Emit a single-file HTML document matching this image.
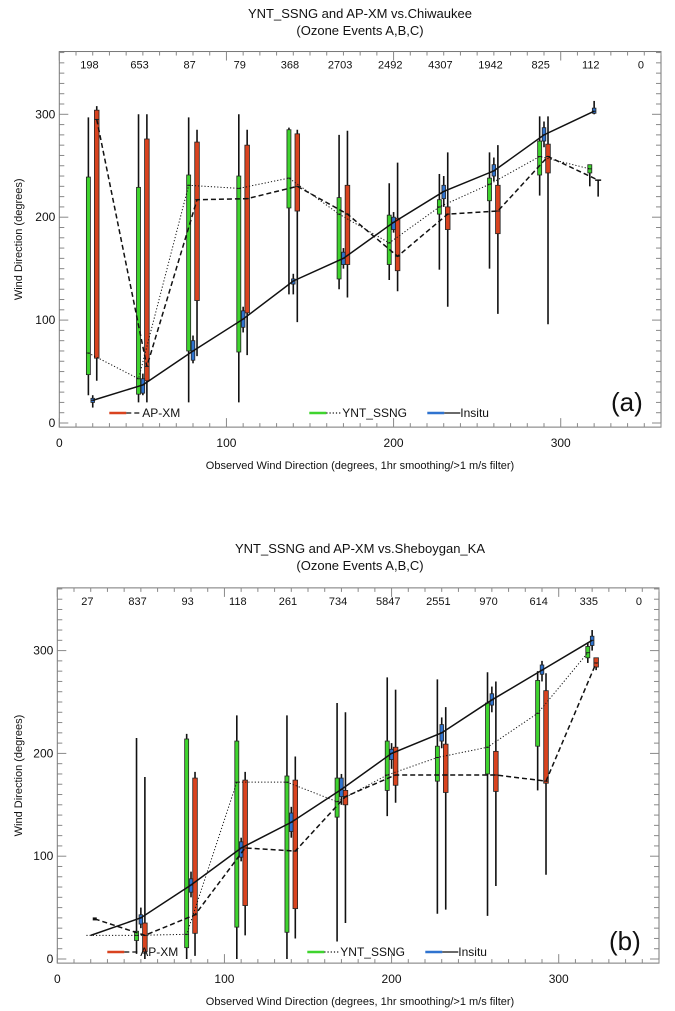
<!DOCTYPE html>
<html><head><meta charset="utf-8">
<style>
html,body{margin:0;padding:0;background:#fff;}
svg{display:block;font-family:"Liberation Sans",sans-serif;}
</style></head>
<body>
<svg id="chart" width="675" height="1011" viewBox="0 0 675 1011"></svg>
<script>
// ---------- Panel (a) data ----------
const binsA = [18,48,78,108,138,168,198,228,258,288,318,348];
const countsA = ["198","653","87","79","368","2703","2492","4307","1942","825","112","0"];
// [whiskerLow, boxLow, median, boxHigh, whiskerHigh]
const greenA = [[27,47,68,239,297],[20,28,43,229,300],[20,70,231,241,297],[20,69,228,240,300],[125,209,238,285,287],[130,140,203,219,280],[139,154,175,202,233],[149,203,210,217,242],[150,216,232,238,263],[221,241,259,274,298],[230,243,247,251,251]];
const blueA = [[15,20,22,24,27],[27,29,37,43,48],[58,61,70,80,85],[88,93,101,109,113],[125,135,138,140,145],[150,154,160,166,170],[185,188,195,200,205],[210,218,225,231,240],[235,240,245,251,258],[268,274,280,287,293],[300,301,303,306,313]];
const redA = [[41,63,295,304,308],[20,41,55,276,300],[65,119,217,273,285],[66,107,218,270,285],[98,206,230,281,285],[122,154,203,231,284],[128,148,162,199,253],[113,188,203,210,263],[106,184,206,231,270],[96,243,259,271,298],[220,236,236,236,236]];
// ---------- Panel (b) data ----------
const binsB = [18,48,78,108,138,168,198,228,258,288,318,348];
const countsB = ["27","837","93","118","261","734","5847","2551","970","614","335","0"];
const greenB = [null,[5,18,23,27,215],[0,11,24,214,219],[0,31,172,212,237],[0,26,172,178,237],[17,138,153,176,249],[139,164,179,212,274],[44,173,196,207,272],[42,180,206,249,279],[164,207,239,271,280],[288,293,298,304,308]];
const blueB = [null,[30,34,40,43,50],[60,65,72,78,85],[95,99,108,114,118],[118,124,133,142,148],[150,158,165,176,180],[185,194,200,204,210],[205,212,220,228,235],[240,247,252,258,265],[270,277,281,286,290],[300,305,310,314,320]];
const redB = [null,[0,7,23,35,177],[3,25,43,176,182],[23,52,108,174,182],[20,49,105,174,197],[35,150,158,164,240],[152,169,179,206,262],[48,162,179,209,245],[71,163,179,202,270],[82,171,173,261,278],[281,284,288,293,293]];
const firstB = {green:23, blue:23, red:39};

const svg = document.getElementById('chart');
const NS = 'http://www.w3.org/2000/svg';
function mk(tag, attrs, parent){
  const e = document.createElementNS(NS, tag);
  for (const k in attrs) e.setAttribute(k, attrs[k]);
  (parent||svg).appendChild(e);
  return e;
}
const COL = {green:'#3fd42e', blue:'#2f73cf', red:'#d9431f'};
const OFF = {green:-0.6, blue:2.0, red:4.4};
const W = {green:4, blue:3.6, red:4.6};

function panel(p){
  const g = mk('g', {});
  
  
  const xs = v => p.x0 + v*(p.x1-p.x0)/360;
  const ys = v => p.y0 - v*p.ky;
  // titles
  let t = mk('text', {x:360, y:p.top+14, 'font-size':13, 'text-anchor':'middle', fill:'#111'}, g);
  t.textContent = p.title;  
  t = mk('text', {x:360, y:p.top+31, 'font-size':13, 'text-anchor':'middle', fill:'#111'}, g);
  t.textContent = '(Ozone Events A,B,C)';  
  // frame
  const fy0 = ys(361), fy1 = ys(-4);
  const fr = mk('rect', {x:p.x0, y:fy0, width:p.x1-p.x0, height:fy1-fy0, fill:'none', stroke:'#777', 'stroke-width':1}, g);
   
  // ticks
  for (let v=0; v<=360; v+=10){
    const L = v%100===0 ? 9 : 4;
    mk('line',{x1:xs(v),x2:xs(v),y1:fy1,y2:fy1-L,stroke:'#888','stroke-width':1},g);
    mk('line',{x1:xs(v),x2:xs(v),y1:fy0,y2:fy0+L,stroke:'#888','stroke-width':1},g);
  }
  for (let v=0; v<=360; v+=10){
    const L = v%100===0 ? 9 : 5;
    mk('line',{x1:p.x0,x2:p.x0+L,y1:ys(v),y2:ys(v),stroke:'#888','stroke-width':1},g);
    mk('line',{x1:p.x1,x2:p.x1-L,y1:ys(v),y2:ys(v),stroke:'#888','stroke-width':1},g);
  }
  [0,100,200,300].forEach(v=>{
    let e = mk('text',{x:xs(v), y:fy1+20, 'font-size':12, 'text-anchor':'middle', fill:'#111'},g);
    e.textContent = v;  
    e = mk('text',{x:p.x0-4, y:ys(v)+4, 'font-size':12, 'text-anchor':'end', fill:'#111'},g);
    e.textContent = v;  
  });
  let e = mk('text',{x:360, y:fy1+42, 'font-size':11, 'text-anchor':'middle', fill:'#111'},g);
  e.textContent = 'Observed Wind Direction (degrees, 1hr smoothing/>1 m/s filter)';
   
  const my = (fy0+fy1)/2;
  e = mk('text',{x:22, y:my, 'font-size':11, 'text-anchor':'middle', fill:'#111', transform:`rotate(-90 22 ${my})`},g);
  e.textContent = 'Wind Direction (degrees)';
   
  // counts
  p.bins.forEach((b,i)=>{
    const c = mk('text',{x:xs(b), y:fy0+17, 'font-size':11, 'text-anchor':'middle', fill:'#111'},g);
    c.textContent = p.counts[i];
     
  });
  // boxes
  ['green','red','blue'].forEach(s=>{
    p[s].forEach((d,i)=>{
      if(!d) return;
      const cx = xs(p.bins[i]+OFF[s]);
      const wl = mk('line',{x1:cx,x2:cx,y1:ys(d[0]),y2:ys(d[4]),stroke:'#111','stroke-width':1.6},g);
       
      if (d[1]===d[3]){
        mk('line',{x1:cx-3,x2:cx+3,y1:ys(d[2]),y2:ys(d[2]),stroke:'#111','stroke-width':1.5},g);
        return;
      }
      const r = mk('rect',{x:cx-W[s]/2, y:ys(d[3]), width:W[s], height:Math.max(1,ys(d[1])-ys(d[3])), fill:COL[s], stroke:'#222','stroke-width':0.8},g);
       
      mk('line',{x1:cx-W[s]/2,x2:cx+W[s]/2,y1:ys(d[2]),y2:ys(d[2]),stroke:'#222','stroke-width':1},g);
    });
  });
  // lines
  const dash = {blue:'', green:'1.2,2', red:'5,3'};
  const widths = {blue:1.5, green:1, red:1.5};
  ['green','red','blue'].forEach(s=>{
    const pts = [];
    if (p.first) pts.push([xs(p.bins[0]+OFF[s]), ys(p.first[s])]);
    p[s].forEach((d,i)=>{ if(d) pts.push([xs(p.bins[i]+OFF[s]), ys(d[2])]); });
    const pl = mk('polyline',{points:pts.map(q=>q.join(',')).join(' '), fill:'none', stroke:'#111','stroke-width':widths[s],'stroke-dasharray':dash[s]},g);
     
  });
  if (p.first){
    mk('line',{x1:xs(p.bins[0]+OFF.red)-2,x2:xs(p.bins[0]+OFF.red)+2,y1:ys(p.first.red),y2:ys(p.first.red),stroke:'#111','stroke-width':3},g);
  }
  // legend
  const ly = p.legY;
  const leg = [[p.x0+50,'red','5,3','AP-XM'],[p.x0+250,'green','1.2,2','YNT_SSNG'],[p.x0+368,'blue','','Insitu']];
  leg.forEach(([lx,s,da,txt])=>{
    const lg = mk('g',{},g);
     
    mk('line',{x1:lx,x2:lx+17,y1:ly,y2:ly,stroke:COL[s],'stroke-width':2.5},lg);
    mk('line',{x1:lx+17,x2:lx+33,y1:ly,y2:ly,stroke:'#111','stroke-width':1.3,'stroke-dasharray':da},lg);
    const tt = mk('text',{x:lx+33, y:ly+4, 'font-size':12, fill:'#111'},lg);
    tt.textContent = txt;
  });
  e = mk('text',{x:p.x1-50, y:ly-2, 'font-size':26, fill:'#111'},g);
  e.textContent = p.tag;  
}

panel({name:'panel-a', title:'YNT_SSNG and AP-XM vs.Chiwaukee', top:4, x0:59.3, x1:661, y0:423, ky:1.029,
  bins:binsA, counts:countsA, green:greenA, blue:blueA, red:redA, first:null, legY:413, tag:'(a)'});
panel({name:'panel-b', title:'YNT_SSNG and AP-XM vs.Sheboygan_KA', top:539, x0:57.3, x1:659, y0:959, ky:1.028,
  bins:binsB, counts:countsB, green:greenB, blue:blueB, red:redB, first:firstB, legY:952, tag:'(b)'});
</script>
</body></html>
